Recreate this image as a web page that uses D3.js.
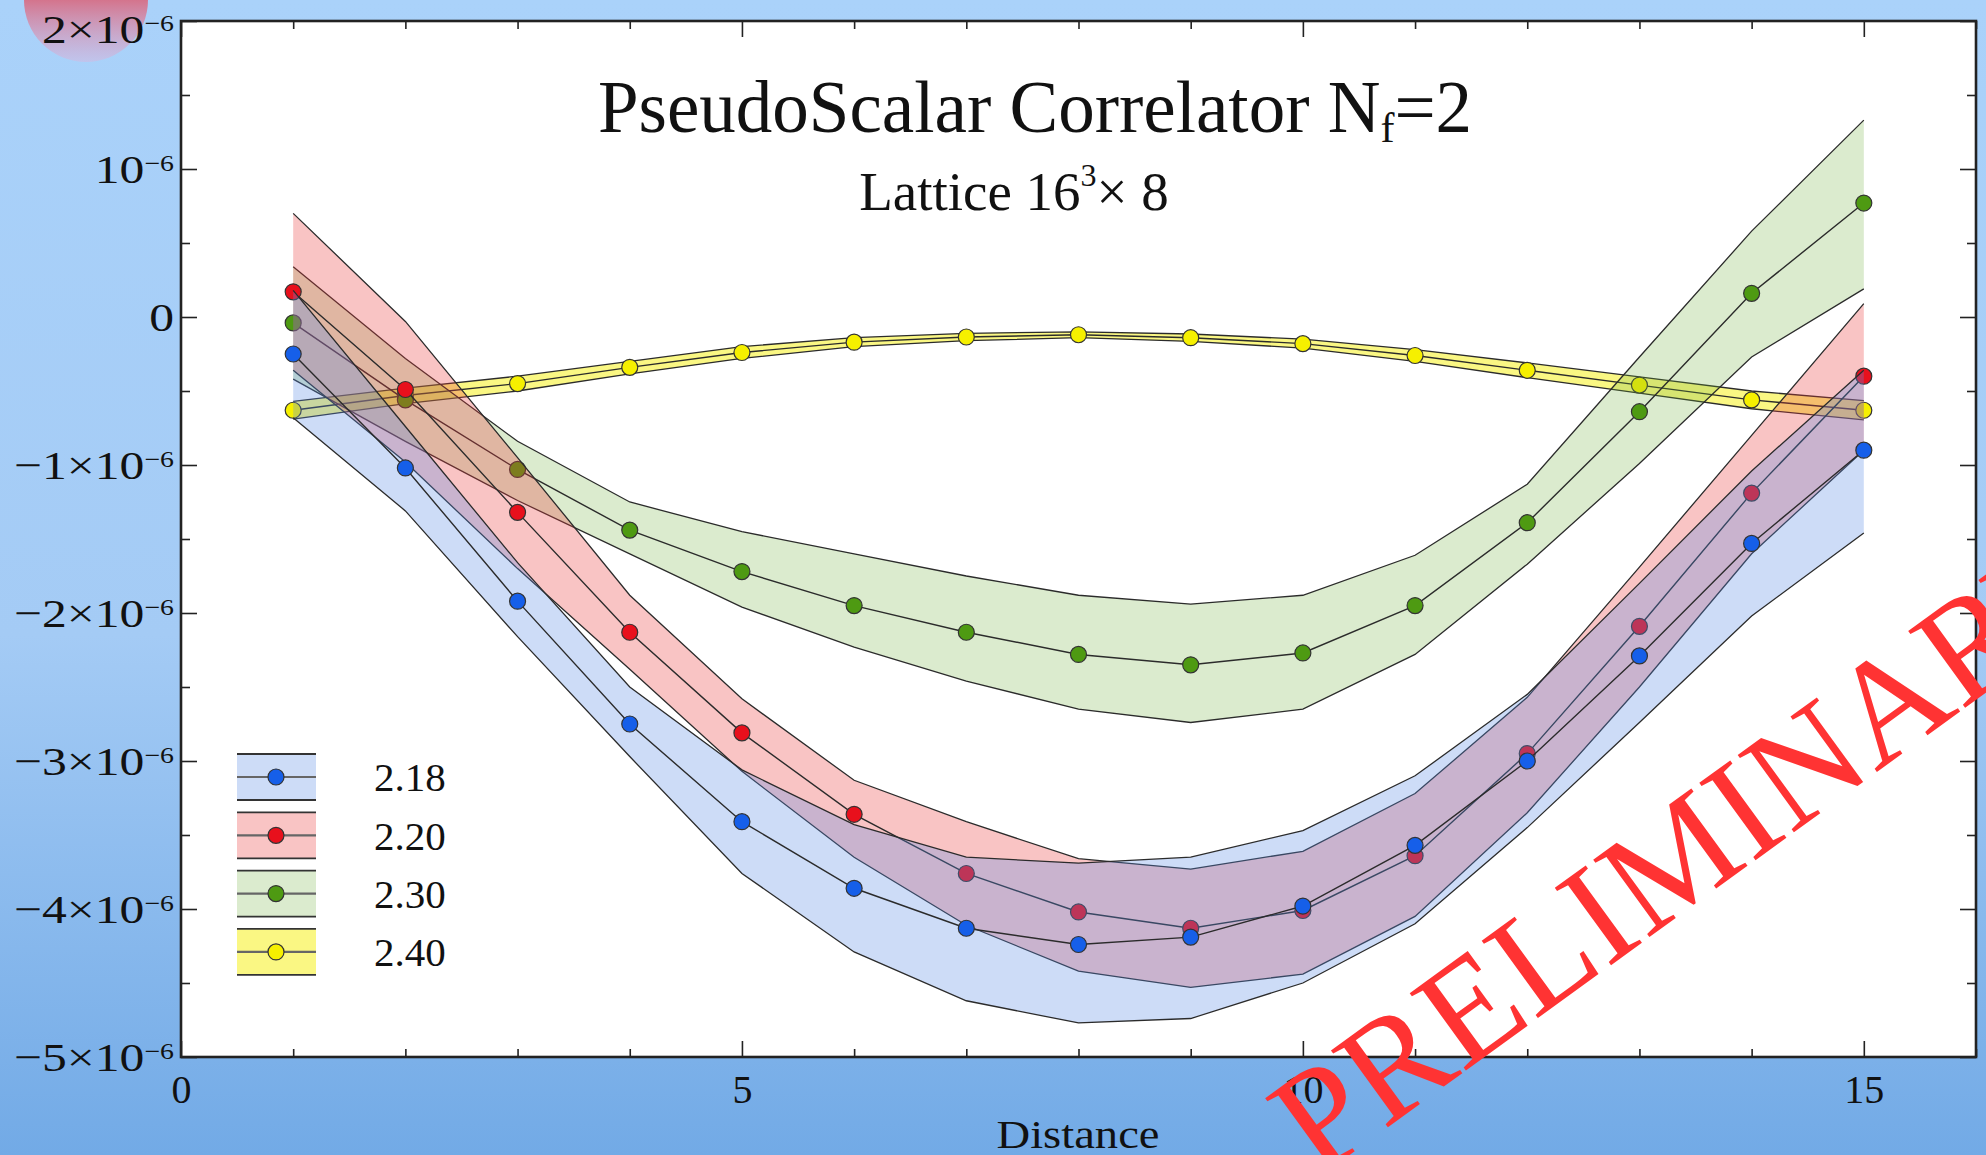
<!DOCTYPE html>
<html><head><meta charset="utf-8">
<script src="https://cdn.jsdelivr.net/npm/d3@7"></script>
<style>html,body{margin:0;padding:0;overflow:hidden;background:#a9d0f9}svg{display:block}</style>
</head><body>
<svg id="chart" width="1986" height="1155"></svg>
<script>
// ---- data (correlator values in units of 10^-6) ----
const distance = [1,2,3,4,5,6,7,8,9,10,11,12,13,14,15];

const beta218     = [-0.25,-1.02,-1.92,-2.75,-3.41,-3.86,-4.13,-4.24,-4.19,-3.98,-3.57,-3.00,-2.29,-1.53,-0.90];
const beta218Up   = [ 0.18,-0.74,-1.66,-2.50,-3.06,-3.43,-3.65,-3.69,-3.65,-3.47,-3.10,-2.55,-1.80,-1.04,-0.36];
const beta218Low  = [-0.68,-1.31,-2.16,-2.97,-3.76,-4.29,-4.62,-4.77,-4.74,-4.50,-4.10,-3.45,-2.74,-2.02,-1.46];

const beta220     = [ 0.17,-0.49,-1.32,-2.13,-2.81,-3.36,-3.76,-4.02,-4.13,-4.01,-3.64,-2.95,-2.09,-1.19,-0.40];
const beta220Up   = [ 0.70,-0.03,-0.95,-1.88,-2.58,-3.13,-3.41,-3.66,-3.73,-3.61,-3.22,-2.57,-1.69,-0.80, 0.09];
const beta220Low  = [-0.36,-0.98,-1.70,-2.38,-3.07,-3.65,-4.11,-4.42,-4.53,-4.44,-4.05,-3.35,-2.50,-1.60,-0.90];

const beta230     = [-0.04,-0.56,-1.03,-1.44,-1.72,-1.95,-2.13,-2.28,-2.35,-2.27,-1.95,-1.39,-0.64, 0.16, 0.77];
const beta230Up   = [ 0.34,-0.28,-0.84,-1.25,-1.45,-1.60,-1.75,-1.88,-1.94,-1.88,-1.61,-1.13,-0.27, 0.58, 1.33];
const beta230Low  = [-0.42,-0.84,-1.24,-1.60,-1.96,-2.23,-2.46,-2.65,-2.74,-2.65,-2.28,-1.67,-0.99,-0.27, 0.19];

const beta240     = [-0.63,-0.53,-0.45,-0.34,-0.24,-0.17,-0.135,-0.12,-0.14,-0.18,-0.26,-0.36,-0.46,-0.56,-0.63];
const beta240Up   = [-0.57,-0.48,-0.40,-0.30,-0.20,-0.14,-0.11,-0.10,-0.115,-0.15,-0.22,-0.31,-0.405,-0.50,-0.565];
const beta240Low  = [-0.69,-0.585,-0.50,-0.385,-0.28,-0.20,-0.16,-0.14,-0.165,-0.21,-0.30,-0.41,-0.515,-0.62,-0.695];

const seriesNames = ["2.18","2.20","2.30","2.40"];
const yMajorTicks = [-5,-4,-3,-2,-1,0,1,2];
const yTickMain   = ["−5×10","−4×10","−3×10","−2×10","−1×10","0","10","2×10"];
const yTickExp    = ["−6","−6","−6","−6","−6","","−6","−6"];
const xMajorTicks = [0,5,10,15];
const xTickLabels = ["0","5","10","15"];

// ---- styling ----
const styles = {
  "2.18": {fill:"rgb(90,140,230)", op:0.3, dot:"#165fe9"},
  "2.20": {fill:"rgb(235,60,60)",  op:0.3, dot:"#e8101c"},
  "2.30": {fill:"rgb(110,175,60)", op:0.25, dot:"#4e9a12"},
  "2.40": {fill:"rgb(245,240,30)", op:0.55, dot:"#f6f000"}
};
const seriesData = {
  "2.18": {c:beta218, hi:beta218Up, lo:beta218Low},
  "2.20": {c:beta220, hi:beta220Up, lo:beta220Low},
  "2.30": {c:beta230, hi:beta230Up, lo:beta230Low},
  "2.40": {c:beta240, hi:beta240Up, lo:beta240Low}
};

const W = 1986, H = 1155;
const M = {left:181, right:1976, top:21, bottom:1057};
const svg = d3.select("#chart");
const serif = "'Liberation Serif','Times New Roman',serif";

const defs = svg.append("defs");
const bg = defs.append("linearGradient").attr("id","bg").attr("x1",0).attr("y1",0).attr("x2",0).attr("y2",1);
bg.append("stop").attr("offset","0%").attr("stop-color","#aad2fa");
bg.append("stop").attr("offset","55%").attr("stop-color","#a4cbf5");
bg.append("stop").attr("offset","100%").attr("stop-color","#72aae6");
const blob = defs.append("linearGradient").attr("id","blob").attr("x1",0).attr("y1",0).attr("x2",0).attr("y2",1);
blob.append("stop").attr("offset","0%").attr("stop-color","#e8161c").attr("stop-opacity",1);
blob.append("stop").attr("offset","40%").attr("stop-color","#e04858").attr("stop-opacity",0.85);
blob.append("stop").attr("offset","100%").attr("stop-color","#dcb4dc").attr("stop-opacity",0.45);
defs.append("clipPath").attr("id","plotclip").append("rect")
  .attr("x",M.left).attr("y",M.top).attr("width",M.right-M.left).attr("height",M.bottom-M.top);

svg.append("rect").attr("width",W).attr("height",H).attr("fill","url(#bg)");
svg.append("circle").attr("cx",86).attr("cy",0).attr("r",62).attr("fill","url(#blob)");

const x = d3.scaleLinear().domain([0,16]).range([M.left, M.right]);
const y = d3.scaleLinear().domain([-5,2]).range([M.bottom, M.top]);

svg.append("rect").attr("x",M.left).attr("y",M.top).attr("width",M.right-M.left).attr("height",M.bottom-M.top).attr("fill","#fff");

const plot = svg.append("g").attr("clip-path","url(#plotclip)");
const area = d3.area().x((d,i)=>x(distance[i])).y0(d=>y(d.lo)).y1(d=>y(d.hi));
const line = d3.line().x(d=>x(d[0])).y(d=>y(d[1]));

// draw order: 2.40, 2.30, 2.20, 2.18 (later series on top)
["2.40","2.30","2.20","2.18"].forEach(name=>{
  const s = seriesData[name], st = styles[name];
  const pts = distance.map((d,i)=>({hi:s.hi[i], lo:s.lo[i]}));
  const g = plot.append("g");
  g.append("path").datum(pts).attr("d",area).attr("fill",st.fill).attr("fill-opacity",st.op).attr("stroke","none");
  g.append("path").datum(distance.map((d,i)=>[d,s.hi[i]])).attr("d",line).attr("fill","none").attr("stroke","#2b2b2b").attr("stroke-width",1.3);
  g.append("path").datum(distance.map((d,i)=>[d,s.lo[i]])).attr("d",line).attr("fill","none").attr("stroke","#2b2b2b").attr("stroke-width",1.3);
  g.append("path").datum(distance.map((d,i)=>[d,s.c[i]])).attr("d",line).attr("fill","none").attr("stroke","#2b2b2b").attr("stroke-width",1.4);
  g.selectAll("circle").data(distance.map((d,i)=>[d,s.c[i]])).join("circle")
    .attr("cx",d=>x(d[0])).attr("cy",d=>y(d[1])).attr("r",8)
    .attr("fill",st.dot).attr("stroke","#333").attr("stroke-width",1.2);
});

// ---- axes ----
const yMinor = d3.range(-4.5,2,1);
const xMinor = d3.range(0,17,1).filter(v=>v%5!==0);
function axisStyle(g){ g.select(".domain").remove(); g.selectAll("line").attr("stroke","#222").attr("stroke-width",1.6); }

svg.append("g").attr("transform",`translate(${M.left},0)`)
  .call(d3.axisLeft(y).tickValues(yMinor).tickSizeInner(-9).tickSizeOuter(0).tickFormat(""))
  .call(axisStyle);
const gy = svg.append("g").attr("transform",`translate(${M.left},0)`)
  .call(d3.axisLeft(y).tickValues(yMajorTicks).tickSizeInner(-16).tickSizeOuter(0).tickPadding(7)
        .tickFormat((d,i)=>yTickMain[i]))
  .call(axisStyle);
gy.selectAll("text").attr("font-family",serif).attr("font-size",41).attr("fill","#111").attr("dy","0.34em")
  .each(function(d,i){
    const sel = d3.select(this);
    if (d === 2) sel.attr("y", 8);   // top label nudged down inside the figure
    if (yTickExp[i]) sel.append("tspan").attr("dy",-12).attr("font-size",23).text(yTickExp[i]);
    const len = this.getComputedTextLength();
    sel.attr("textLength", len*1.21).attr("lengthAdjust","spacingAndGlyphs");
  });

svg.append("g").attr("transform",`translate(${M.right},0)`)
  .call(d3.axisRight(y).tickValues(yMinor).tickSizeInner(-9).tickSizeOuter(0).tickFormat("")).call(axisStyle);
svg.append("g").attr("transform",`translate(${M.right},0)`)
  .call(d3.axisRight(y).tickValues(yMajorTicks).tickSizeInner(-16).tickSizeOuter(0).tickFormat("")).call(axisStyle);

svg.append("g").attr("transform",`translate(0,${M.bottom})`)
  .call(d3.axisBottom(x).tickValues(xMinor).tickSizeInner(-8).tickSizeOuter(0).tickFormat("")).call(axisStyle);
const gx = svg.append("g").attr("transform",`translate(0,${M.bottom})`)
  .call(d3.axisBottom(x).tickValues(xMajorTicks).tickSizeInner(-16).tickSizeOuter(0).tickPadding(18)
        .tickFormat((d,i)=>xTickLabels[i]))
  .call(axisStyle);
gx.selectAll("text").attr("font-family",serif).attr("font-size",40).attr("fill","#111");

svg.append("g").attr("transform",`translate(0,${M.top})`)
  .call(d3.axisTop(x).tickValues(xMinor).tickSizeInner(-8).tickSizeOuter(0).tickFormat("")).call(axisStyle);
svg.append("g").attr("transform",`translate(0,${M.top})`)
  .call(d3.axisTop(x).tickValues(xMajorTicks).tickSizeInner(-16).tickSizeOuter(0).tickFormat("")).call(axisStyle);

svg.append("rect").attr("x",M.left).attr("y",M.top).attr("width",M.right-M.left).attr("height",M.bottom-M.top)
  .attr("fill","none").attr("stroke","#222").attr("stroke-width",2.6);

// ---- legend ----
const leg = svg.append("g");
seriesNames.forEach((name,i)=>{
  const st = styles[name];
  const cy = 777 + i*58.3;
  const g = leg.append("g");
  g.append("rect").attr("x",237).attr("y",cy-23).attr("width",79).attr("height",46).attr("fill",st.fill).attr("fill-opacity",st.op);
  g.append("line").attr("x1",237).attr("x2",316).attr("y1",cy-23).attr("y2",cy-23).attr("stroke","#333").attr("stroke-width",1.8);
  g.append("line").attr("x1",237).attr("x2",316).attr("y1",cy+23).attr("y2",cy+23).attr("stroke","#333").attr("stroke-width",1.8);
  g.append("line").attr("x1",237).attr("x2",316).attr("y1",cy).attr("y2",cy).attr("stroke","#666").attr("stroke-width",2.2);
  g.append("circle").attr("cx",276).attr("cy",cy).attr("r",8).attr("fill",st.dot).attr("stroke","#333").attr("stroke-width",1.2);
  g.append("text").attr("x",374).attr("y",cy).attr("dy","0.35em").attr("font-family",serif).attr("font-size",41).attr("fill","#111").text(name);
});

// ---- titles ----
const t = svg.append("text").attr("x",1035).attr("y",132).attr("text-anchor","middle")
  .attr("font-family",serif).attr("font-size",73).attr("fill","#111");
t.append("tspan").text("PseudoScalar Correlator N");
t.append("tspan").attr("font-size",42).attr("dy",10).text("f");
t.append("tspan").attr("dy",-10).text("=2");

const st2 = svg.append("text").attr("x",1014).attr("y",210).attr("text-anchor","middle")
  .attr("font-family",serif).attr("font-size",55).attr("fill","#111");
st2.append("tspan").text("Lattice 16");
st2.append("tspan").attr("font-size",32).attr("dy",-24).text("3");
st2.append("tspan").attr("dy",24).text("× 8");

svg.append("text").attr("x",1078).attr("y",1148).attr("text-anchor","middle")
  .attr("font-family",serif).attr("font-size",39).attr("fill","#111")
  .attr("textLength",163).attr("lengthAdjust","spacingAndGlyphs").text("Distance");

// ---- watermark ----
svg.append("text").attr("transform","translate(1318,1178) rotate(-36)")
  .attr("font-family",serif).attr("font-size",146).attr("fill","#ff3333").text("PRELIMINARY");
</script>
</body></html>
